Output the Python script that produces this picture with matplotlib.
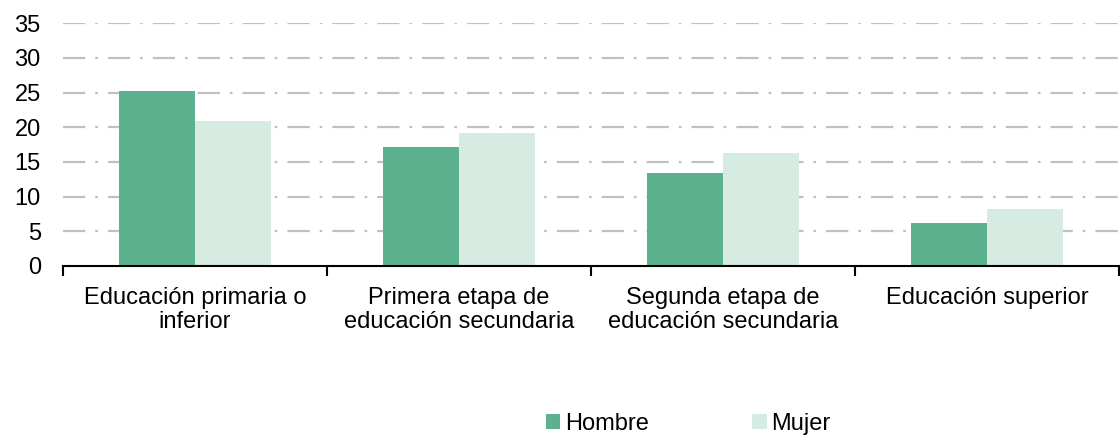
import numpy as np
import matplotlib
matplotlib.use("Agg")
import matplotlib.pyplot as plt
from matplotlib.ticker import FixedLocator

plt.rcParams['font.family'] = ['Liberation Sans', 'DejaVu Sans']

categories = ["Educación primaria o\ninferior",
              "Primera etapa de\neducación secundaria",
              "Segunda etapa de\neducación secundaria",
              "Educación superior"]
hombre = [25.3, 17.2, 13.4, 6.2]
mujer = [20.9, 19.2, 16.3, 8.2]
yticks = [0, 5, 10, 15, 20, 25, 30, 35]

c_hombre = "#5cb18f"
c_mujer = "#d6ebe1"

fig = plt.figure(figsize=(11.2, 4.37), dpi=100)
ax = fig.add_axes([63 / 1120, 1 - 266 / 437, (1119 - 63) / 1120, (266 - 23.3) / 437])

x = np.arange(len(categories))
w = 0.288
ax.bar(x - w / 2, hombre, w, color=c_hombre, label="Hombre", zorder=3)
ax.bar(x + w / 2, mujer, w, color=c_mujer, label="Mujer", zorder=3)

ax.set_xlim(-0.5, len(categories) - 0.5)
ax.set_ylim(0, 35)
ax.set_yticks(yticks)
ax.tick_params(axis='y', length=0, labelsize=17, pad=16)

# category labels centred, tick marks between groups
ax.set_xticks(x)
ax.set_xticklabels(categories, fontsize=17, linespacing=1.15)
ax.tick_params(axis='x', which='major', length=0, pad=15)
ax.xaxis.set_minor_locator(FixedLocator(np.arange(-0.5, len(categories), 1.0)))
ax.tick_params(axis='x', which='minor', length=7, width=1.5, color='black')

for s in ['left', 'right', 'top']:
    ax.spines[s].set_visible(False)
ax.spines['bottom'].set_linewidth(1.5)
ax.spines['bottom'].set_zorder(4)

for yv in yticks[1:]:
    ax.axhline(yv, color="#c0c0c0", lw=1.6, zorder=1,
               dashes=(10, 4.5, 1.2, 4.5))

leg = fig.legend(loc='center left', bbox_to_anchor=(534 / 1120, 1 - 424 / 437), ncol=2,
                 frameon=False, fontsize=17, handlelength=0.6, handleheight=0.6,
                 handletextpad=0.2, columnspacing=4.4, borderpad=0)

fig.savefig("out.png", dpi=100)
